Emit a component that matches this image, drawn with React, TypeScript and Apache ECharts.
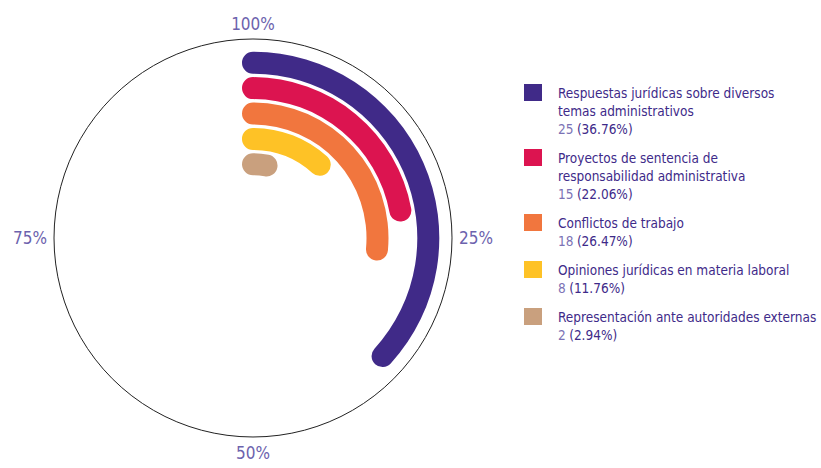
import React, { useEffect, useRef } from "react";
import * as echarts from "echarts";

const categories = [
  "Respuestas jurídicas sobre diversos temas administrativos",
  "Proyectos de sentencia de responsabilidad administrativa",
  "Conflictos de trabajo",
  "Opiniones jurídicas en materia laboral",
  "Representación ante autoridades externas",
];
const legendLines = [
  ["Respuestas jurídicas sobre diversos", "temas administrativos"],
  ["Proyectos de sentencia de", "responsabilidad administrativa"],
  ["Conflictos de trabajo"],
  ["Opiniones jurídicas en materia laboral"],
  ["Representación ante autoridades externas"],
];
const counts = [25, 15, 18, 8, 2];
const percents = [36.76, 22.06, 26.47, 11.76, 2.94];
const colors = ["#402a88", "#dc1450", "#f1763e", "#fec226", "#c9a07e"];
const angleTicks = [0, 25, 50, 75];

const FONT = "'DejaVu Sans Condensed', 'Liberation Sans Narrow', sans-serif";
const DARK = "#3e2a89";
const LIGHT = "#7c72b5";
const LH = 18;

export default function App() {
  const ref = useRef<HTMLDivElement>(null);
  useEffect(() => {
    if (!ref.current) return;
    const chart = echarts.init(ref.current, null, { renderer: "svg" });
    const radiusCats = categories.slice().reverse();
    const fs = 13.5;
    const rich: any = {
      n: { color: DARK, fontSize: fs, lineHeight: LH, fontFamily: FONT },
      c: { color: LIGHT, fontSize: fs, lineHeight: LH, fontFamily: FONT },
      p: { color: DARK, fontSize: fs, lineHeight: LH, fontFamily: FONT },
      g: { width: 16, height: 17, lineHeight: LH },
      sp: { width: 34, height: 17, lineHeight: LH },
    };
    colors.forEach((c, i) => {
      rich["b" + i] = { width: 18, height: 17, backgroundColor: c, lineHeight: LH };
    });
    const series = categories.map((name, i) => {
      const idx = radiusCats.indexOf(name);
      const data = radiusCats.map((_, j) => (j === idx ? percents[i] : null));
      return {
        type: "bar",
        name,
        coordinateSystem: "polar",
        polarIndex: 0,
        stack: "total",
        roundCap: true,
        barWidth: 22,
        itemStyle: { color: colors[i] },
        data,
      };
    });
    chart.setOption({
      animation: false,
      color: colors,
      polar: [
        { center: [253, 238], radius: [61, 188] },
        { center: [253, 238], radius: [0, 199] },
      ],
      angleAxis: [
        {
          polarIndex: 0,
          type: "value",
          min: 0,
          max: 100,
          startAngle: 90,
          clockwise: true,
          axisLine: { show: false },
          axisTick: { show: false },
          axisLabel: { show: false },
          splitLine: { show: false },
        },
        {
          polarIndex: 1,
          type: "value",
          min: 0,
          max: 100,
          interval: 25,
          startAngle: 90,
          clockwise: true,
          axisLine: { show: true, lineStyle: { color: "#222", width: 1 } },
          axisTick: { show: false },
          splitLine: { show: false },
          axisLabel: {
            show: true,
            margin: 7,
            color: "#6c62ad",
            fontSize: 17,
            fontFamily: FONT,
            formatter: (v: number) => (angleTicks.indexOf(v) >= 0 ? (v === 0 ? 100 : v) + "%" : ""),
          },
        },
      ],
      radiusAxis: [
        {
          polarIndex: 0,
          type: "category",
          data: radiusCats,
          axisLine: { show: false },
          axisTick: { show: false },
          axisLabel: { show: false },
          splitLine: { show: false },
        },
        {
          polarIndex: 1,
          type: "value",
          axisLine: { show: false },
          axisTick: { show: false },
          axisLabel: { show: false },
          splitLine: { show: false },
        },
      ],
      legend: {
        orient: "vertical",
        left: 514,
        top: 79,
        itemWidth: 0,
        itemHeight: 0,
        itemGap: 12,
        icon: "rect",
        data: categories,
        textStyle: { rich, fontFamily: FONT },
        formatter: (name: string) => {
          const i = categories.indexOf(name);
          const lines = legendLines[i];
          const out: string[] = [];
          lines.forEach((l, k) => {
            out.push((k === 0 ? `{b${i}|}{g|}` : "{sp|}") + `{n|${l}}`);
          });
          out.push(`{sp|}{c|${counts[i]}} {p|(${percents[i].toFixed(2)}%)}`);
          return out.join("\n");
        },
      },
      series,
    });
    return () => chart.dispose();
  }, []);
  return (
    <div
      ref={ref}
      style={{ position: "fixed", left: 0, top: 0, width: 821, height: 468, background: "#fff" }}
    />
  );
}
